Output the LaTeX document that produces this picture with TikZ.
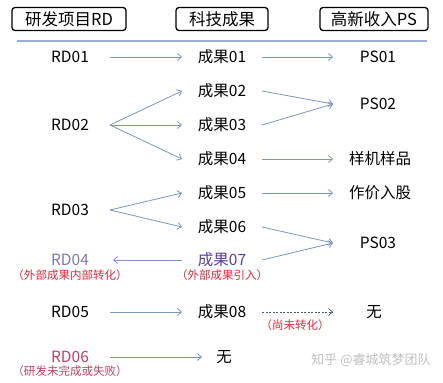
\documentclass[tikz,border=0pt]{standalone}
\usepackage{fontspec}
\setmainfont{Noto Sans CJK SC}
\usetikzlibrary{arrows.meta}
\definecolor{arr}{HTML}{7E94C4}
\definecolor{rule}{HTML}{9AAFD6}
\definecolor{lav}{HTML}{8478B4}
\definecolor{purp}{HTML}{5B3F96}
\definecolor{redn}{HTML}{E8283C}
\definecolor{rdsix}{HTML}{C8405E}
\definecolor{dsh}{HTML}{4A5670}
\tikzset{
  hdr/.style={draw=black,line width=1.3pt,rounded corners=3pt,minimum height=23pt,inner xsep=4pt,font=\fontsize{16.5}{18}\selectfont},
  lbl/.style={font=\fontsize{15.5}{17}\selectfont,inner sep=1pt},
  note/.style={font=\fontsize{11.5}{13}\selectfont,text=redn,inner sep=0pt},
  conn/.style={draw=arr,line width=0.8pt,-{Straight Barb[length=4pt,width=7pt]}},
  dconn/.style={draw=dsh,line width=0.7pt,dashed,dash pattern=on 2pt off 1.5pt,-{Straight Barb[length=4pt,width=7pt]}},
  wm/.style={font=\fontsize{13}{15}\selectfont,text=black!25,inner sep=0pt}
}
\begin{document}
\begin{tikzpicture}[x=1pt,y=-1pt]
\useasboundingbox (0,0) rectangle (443,382);
\fill[white] (0,0) rectangle (443,382);
% headers
\node[hdr,minimum width=114pt] (h1) at (69,19) {研发项目RD};
\node[hdr,minimum width=92pt] (h2) at (222,19) {科技成果};
\node[hdr,minimum width=108pt] (h3) at (374,19) {高新收入PS};
\coordinate (rl) at (17,41);
\coordinate (rr) at (427,41);
\draw[rule,line width=1.2pt] (rl) -- (rr);
% left column
\node[lbl] (rd1) at (70,57) {RD01};
\node[lbl] (rd2) at (70,125) {RD02};
\node[lbl] (rd3) at (70,210) {RD03};
\node[lbl,text=lav] (rd4) at (70,260) {RD04};
\node[lbl] (rd5) at (70,312) {RD05};
\node[lbl,text=rdsix] (rd6) at (70,357) {RD06};
% middle column
\node[lbl] (c1) at (222,57) {成果01};
\node[lbl] (c2) at (222,91) {成果02};
\node[lbl] (c3) at (222,125) {成果03};
\node[lbl] (c4) at (222,159) {成果04};
\node[lbl] (c5) at (222,193) {成果05};
\node[lbl] (c6) at (222,227) {成果06};
\node[lbl,text=purp] (c7) at (222,260) {成果07};
\node[lbl] (c8) at (222,312) {成果08};
\node[lbl] (n2) at (224,357) {无};
% right column
\node[lbl] (p1) at (378,57) {PS01};
\node[lbl] (p2) at (378,104) {PS02};
\node[lbl] (p4) at (380,159) {样机样品};
\node[lbl] (p5) at (380,193) {作价入股};
\node[lbl] (p3) at (378,243) {PS03};
\node[lbl] (n1) at (374,312) {无};
% notes
\node[note] (t1) at (70,275) {（外部成果内部转化）};
\node[note] (t2) at (222,275) {（外部成果引入）};
\node[note] (t3) at (295,325) {（尚未转化）};
\node[note,text=rdsix] (t4) at (70,371) {（研发未完成或失败）};
% watermark
\node[wm] (w) at (371,360) {知乎 @睿城筑梦团队};
% anchor coordinates
\coordinate (a1) at (110,57);  \coordinate (b1) at (182,57);
\coordinate (a1r) at (262,57); \coordinate (b1r) at (333,57);
\coordinate (a2) at (110,125);
\coordinate (b2) at (182,91); \coordinate (b3) at (182,125); \coordinate (b4) at (182,159);
\coordinate (e2) at (262,91); \coordinate (e3) at (262,125); \coordinate (q2) at (333,104);
\coordinate (e4) at (262,159); \coordinate (q4) at (333,159);
\coordinate (a3) at (110,210);
\coordinate (b5) at (182,193); \coordinate (b6) at (182,227);
\coordinate (e5) at (262,193); \coordinate (q5) at (333,193);
\coordinate (e6) at (262,227); \coordinate (e7) at (262,260); \coordinate (q3) at (333,243);
\coordinate (s7) at (182,260); \coordinate (d4) at (113,260);
\coordinate (a5) at (110,312); \coordinate (b8) at (182,312);
\coordinate (e8) at (262,312); \coordinate (q8) at (333,312);
\coordinate (a6) at (110,357); \coordinate (b9) at (202,357);
% connectors
\draw[conn] (a1) -- (b1);
\draw[conn] (a1r) -- (b1r);
\draw[conn] (a2) -- (b2);
\draw[conn] (a2) -- (b3);
\draw[conn] (a2) -- (b4);
\draw[conn] (e2) -- (q2);
\draw[conn] (e3) -- (q2);
\draw[conn] (e4) -- (q4);
\draw[conn] (a3) -- (b5);
\draw[conn] (a3) -- (b6);
\draw[conn] (e5) -- (q5);
\draw[conn] (e6) -- (q3);
\draw[conn] (e7) -- (q3);
\draw[conn] (s7) -- (d4);
\draw[conn] (a5) -- (b8);
\draw[dconn] (e8) -- (q8);
\draw[conn] (a6) -- (b9);
\end{tikzpicture}
\end{document}
